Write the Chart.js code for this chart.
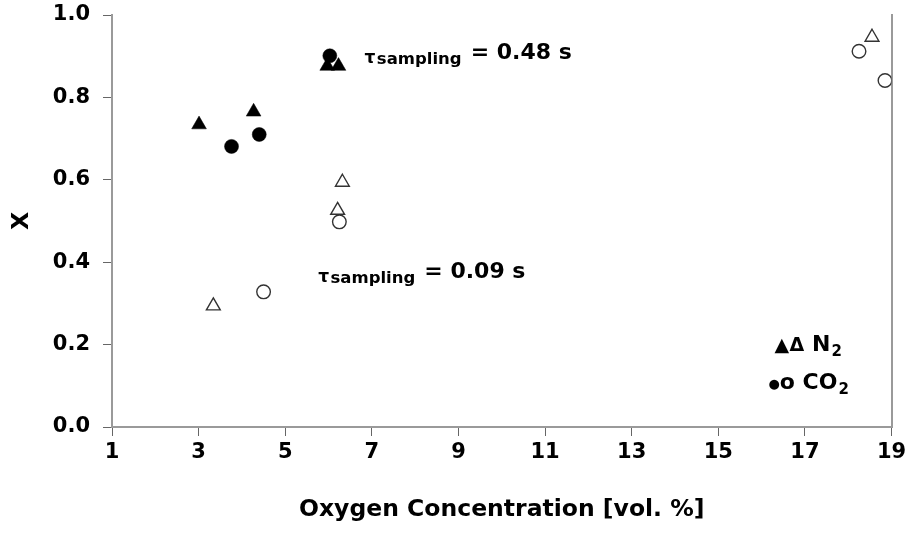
<!DOCTYPE html>
<html>
<head>
<meta charset="utf-8">
<script src="https://cdn.jsdelivr.net/npm/chart.js@4/dist/chart.umd.min.js"></script>
<style>
  html, body { margin: 0; padding: 0; background: #fff; }
  #wrap { width: 910px; height: 537px; }
</style>
</head>
<body>
<div id="wrap"><canvas id="c" width="910" height="537"></canvas></div>
<script>
// ---- data ----
const n2SlowX  = [3.01, 4.27, 5.97, 6.23];      // filled triangles, tau = 0.48 s
const n2SlowY  = [0.734, 0.765, 0.876, 0.876];
const co2SlowX = [3.76, 4.40, 6.03];            // filled circles, tau = 0.48 s
const co2SlowY = [0.681, 0.710, 0.901];
const n2FastX  = [3.34, 6.32, 6.21, 18.55];     // open triangles, tau = 0.09 s
const n2FastY  = [0.294, 0.594, 0.526, 0.946];
const co2FastX = [4.50, 6.25, 18.25, 18.85];    // open circles, tau = 0.09 s
const co2FastY = [0.328, 0.498, 0.912, 0.841];

const xTicks = [1, 3, 5, 7, 9, 11, 13, 15, 17, 19];
const yTicks = [0.0, 0.2, 0.4, 0.6, 0.8, 1.0];

const noteX = [6.83, 5.76];
const noteY = [0.892, 0.361];
const noteText = ['= 0.48 s', '= 0.09 s'];

const FAM = "'DejaVu Sans', sans-serif";

function pts(xs, ys) { return xs.map((x, i) => ({ x: x, y: ys[i] })); }

const notesPlugin = {
  id: 'notes',
  afterDraw(chart) {
    const ctx = chart.ctx;
    const xs = chart.scales.x, ys = chart.scales.y;
    ctx.save();
    ctx.fillStyle = '#000';
    ctx.textBaseline = 'alphabetic';
    ctx.textAlign = 'left';
    for (let i = 0; i < noteX.length; i++) {
      let px = xs.getPixelForValue(noteX[i]);
      const py = ys.getPixelForValue(noteY[i]);
      ctx.font = 'bold 17px ' + FAM;
      ctx.fillText('τ', px, py + 3.5);
      px += ctx.measureText('τ').width + 1.5;
      ctx.font = 'bold 16.5px ' + FAM;
      ctx.fillText('sampling', px, py + 5);
      px += ctx.measureText('sampling').width + 9;
      ctx.font = 'bold 22px ' + FAM;
      ctx.fillText(noteText[i], px, py);
    }
    // legend text
    const lx = chart.chartArea.right - 117;
    const ly1 = chart.chartArea.bottom - 76;
    const ly2 = chart.chartArea.bottom - 38;
    ctx.font = 'bold 19px ' + FAM;
    let x = lx;
    ctx.fillText('▲', x, ly1);
    x += ctx.measureText('▲').width + 0.5;
    ctx.fillText('Δ', x, ly1);
    x += ctx.measureText('Δ').width;
    ctx.font = 'bold 22px ' + FAM;
    ctx.fillText(' N', x, ly1);
    x += ctx.measureText(' N').width + 1;
    ctx.font = 'bold 15px ' + FAM;
    ctx.fillText('2', x, ly1 + 5);

    x = lx - 6;
    ctx.font = 'bold 13px ' + FAM;
    ctx.fillText('●', x, ly2 - 1);
    x += ctx.measureText('●').width;
    ctx.font = 'bold 22px ' + FAM;
    ctx.fillText('o CO', x, ly2);
    x += ctx.measureText('o CO').width + 1;
    ctx.font = 'bold 15px ' + FAM;
    ctx.fillText('2', x, ly2 + 5);
    ctx.restore();
  }
};

function noPad(s) { s.paddingTop = 0; s.paddingBottom = 0; s.paddingLeft = 0; s.paddingRight = 0; }

new Chart(document.getElementById('c'), {
  type: 'scatter',
  data: {
    datasets: [
      { label: 'N2 0.09 s', data: pts(n2FastX, n2FastY), pointStyle: 'triangle', pointRadius: 8,
        backgroundColor: 'rgba(0,0,0,0)', borderColor: '#333', borderWidth: 1.4 },
      { label: 'CO2 0.09 s', data: pts(co2FastX, co2FastY), pointStyle: 'circle', pointRadius: 6.8,
        backgroundColor: 'rgba(0,0,0,0)', borderColor: '#333', borderWidth: 1.4 },
      { label: 'N2 0.48 s', data: pts(n2SlowX, n2SlowY), pointStyle: 'triangle', pointRadius: 8.5,
        backgroundColor: '#000', borderColor: '#000', borderWidth: 0.5 },
      { label: 'CO2 0.48 s', data: pts(co2SlowX, co2SlowY), pointStyle: 'circle', pointRadius: 7,
        backgroundColor: '#000', borderColor: '#000', borderWidth: 0.5 }
    ]
  },
  options: {
    responsive: false,
    animation: false,
    events: [],
    layout: { padding: { top: 15, left: 0, right: 0, bottom: 0 } },
    plugins: { legend: { display: false }, tooltip: { enabled: false } },
    scales: {
      x: {
        type: 'linear', min: xTicks[0], max: xTicks[xTicks.length - 1],
        afterBuildTicks(s) { s.ticks = xTicks.map(v => ({ value: v })); },
        ticks: { color: '#000', padding: 4, font: { family: FAM, weight: 'bold', size: 21 }, maxRotation: 0 },
        grid: { drawOnChartArea: false, tickLength: 9, color: '#666', lineWidth: 1 },
        border: { display: true, color: '#9a9a9a', width: 2 },
        title: { display: true, text: 'Oxygen Concentration [vol. %]', color: '#000',
                 font: { family: FAM, weight: 'bold', size: 23.5 }, padding: { top: 0, bottom: 13 } },
        afterFit(s) { s.height = 110; noPad(s); }
      },
      y: {
        type: 'linear', min: yTicks[0], max: yTicks[yTicks.length - 1],
        afterBuildTicks(s) { s.ticks = yTicks.map(v => ({ value: v })); },
        ticks: { color: '#000', padding: 13, font: { family: FAM, weight: 'bold', size: 21 },
                 callback: v => Number(v).toFixed(1) },
        grid: { drawOnChartArea: false, tickLength: 9, color: '#666', lineWidth: 1 },
        border: { display: true, color: '#9a9a9a', width: 2 },
        title: { display: true, text: 'X', color: '#000',
                 font: { family: FAM, weight: 'bold', size: 23.5 }, padding: { top: 8, bottom: 0 } },
        afterFit(s) { s.width = 112; noPad(s); }
      },
      y2: {
        type: 'linear', position: 'right', min: 0, max: 1,
        ticks: { display: false },
        grid: { drawOnChartArea: false, drawTicks: false, tickLength: 0 },
        border: { display: true, color: '#9a9a9a', width: 2 },
        afterFit(s) { s.width = 18.5; noPad(s); }
      }
    }
  },
  plugins: [notesPlugin]
});
</script>
</body>
</html>
